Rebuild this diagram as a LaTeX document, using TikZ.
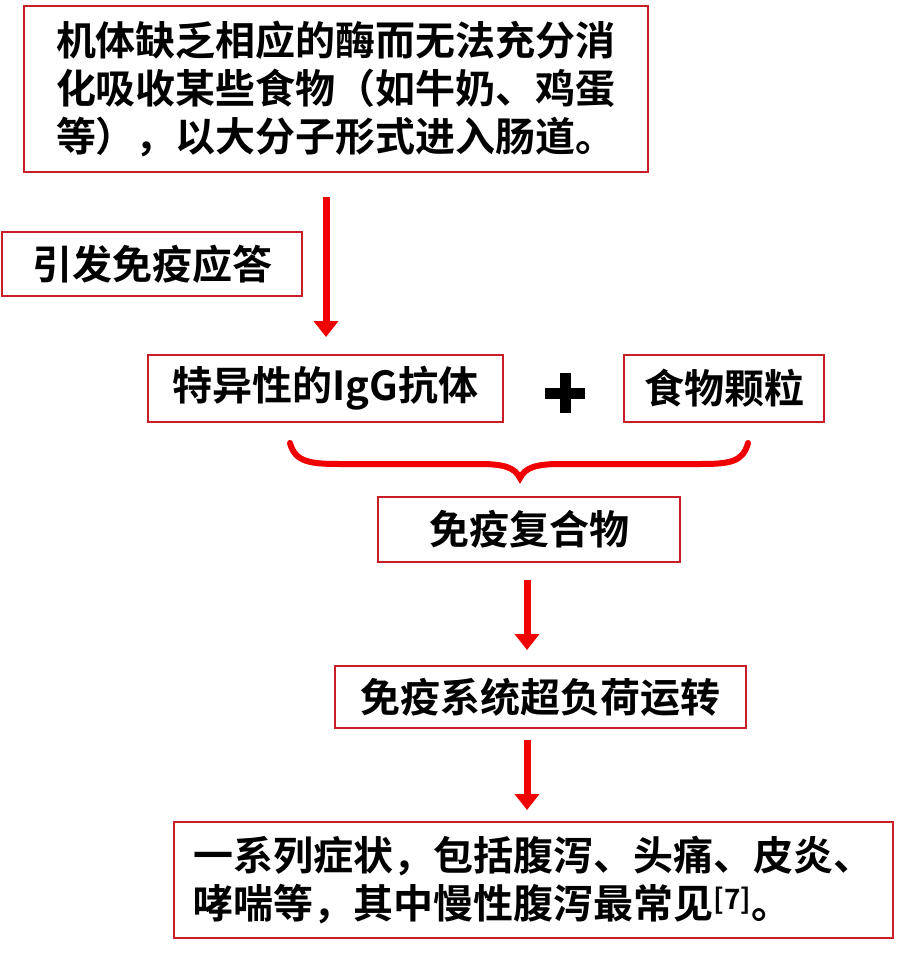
\documentclass[tikz,border=0pt]{standalone}
\usepackage{fontspec}
\setmainfont{Noto Sans CJK SC Bold}
\usetikzlibrary{arrows.meta}
\definecolor{bred}{RGB}{200,30,40}
\definecolor{ared}{RGB}{240,0,0}
\tikzset{
 box/.style={draw=bred,line width=1.6pt,inner sep=0pt,font=\fontsize{40}{48}\selectfont},
 arr/.style={draw=ared,line width=7pt,-{Triangle[length=16pt,width=24pt]}},
}
\begin{document}
\begin{tikzpicture}[x=1pt,y=-1pt]
\useasboundingbox (0,0) rectangle (924,959);
\node[box,minimum width=624pt,minimum height=166pt,align=left] (b1) at (336,89) {机体缺乏相应的酶而无法充分消\\化吸收某些食物（如牛奶、鸡蛋\\等），以大分子形式进入肠道。};
\node[box,minimum width=300pt,minimum height=64pt] (b2) at (152,264) {引发免疫应答};
\node[box,minimum width=355pt,minimum height=67pt] (b3) at (325.5,388.5) {特异性的IgG抗体};
\node[box,minimum width=200pt,minimum height=67pt] (b4) at (724,388.5) {食物颗粒};
\node[box,minimum width=302pt,minimum height=65pt] (b5) at (529,529.5) {免疫复合物};
\node[box,minimum width=411pt,minimum height=62pt] (b6) at (540.5,697) {免疫系统超负荷运转};
\node[box,minimum width=719pt,minimum height=116pt,align=left] (b7) at (533.5,880) {一系列症状，包括腹泻、头痛、皮炎、\\哮喘等，其中慢性腹泻最常见\textsuperscript{[7]}。};
\coordinate (a1s) at (326,197);
\coordinate (a1e) at (326,337);
\draw[arr] (a1s) -- (a1e);
\coordinate (a2s) at (527,580);
\coordinate (a2e) at (527,650);
\coordinate (a3s) at (527,740);
\coordinate (a3e) at (527,810);
\draw[arr] (a2s) -- (a2e);
\draw[arr] (a3s) -- (a3e);
\draw[line width=11pt] (545,393) -- (585,393) (565,373) -- (565,413);
\draw[ared,line width=6pt,line cap=round] (290,443) .. controls (295,462) and (310,464) .. (340,464) -- (480,464) .. controls (505,464) and (515,468) .. (520,478) .. controls (525,468) and (535,464) .. (560,464) -- (700,464) .. controls (730,464) and (743,462) .. (748,443);
\end{tikzpicture}
\end{document}
